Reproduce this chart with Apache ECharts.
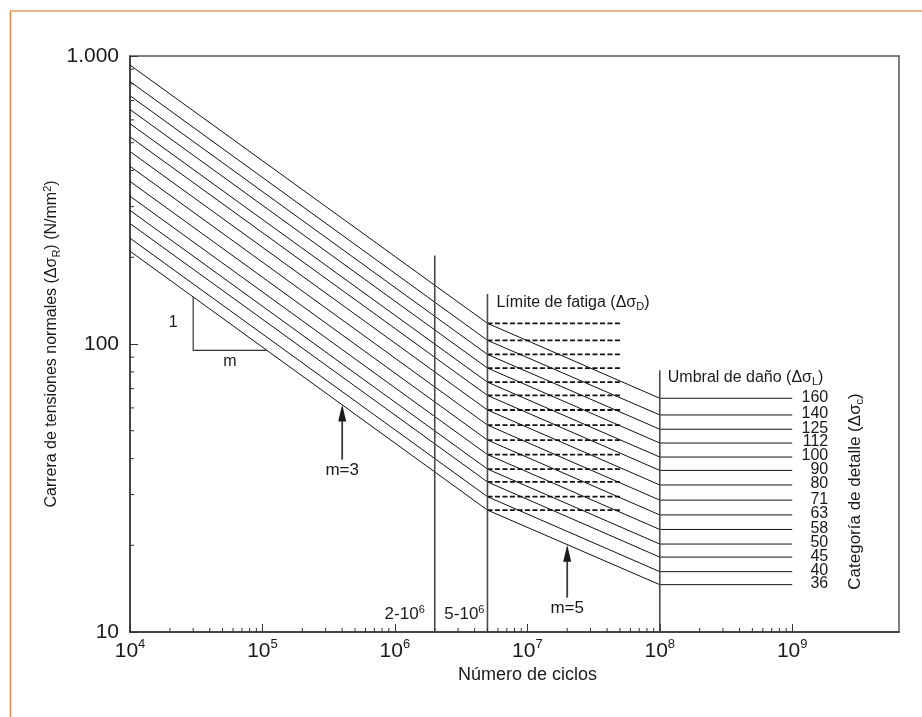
<!DOCTYPE html>
<html><head><meta charset="utf-8">
<script src="https://cdn.jsdelivr.net/npm/echarts@6/dist/echarts.min.js"></script>
<style>html,body{margin:0;padding:0;background:#fff}#c{width:922px;height:717px}</style>
</head><body><div id="c"></div>
<script>
// ---------------- data ----------------
const categoryLabels = ['160','140','125','112','100','90','80','71','63','58','50','45','40','36'];
// stress range (N/mm2) at N = 1e4
const rangeAt1e4   = [930, 815, 728, 652, 582, 524, 466, 414, 367, 326, 291, 262, 233, 210];
// fatigue limit (at N = 5e6)
const fatigueLimit = [118, 103, 92, 82.5, 73.7, 66.3, 59, 52.3, 46.4, 41.3, 36.8, 33.2, 29.5, 26.5];
// cut-off limit (from N = 1e8 to 1e9)
const cutOffLimit  = [64.8, 56.7, 50.6, 45.3, 40.5, 36.4, 32.4, 28.7, 25.5, 22.7, 20.2, 18.2, 16.2, 14.6];
const breakCycles  = [1e4, 5e6, 1e8, 1e9];
const dashedCycles = [5e6, 5e7];
const verticalCycles = [2e6, 5e6, 1e8];
const verticalTops   = [203, 149, 81];
const slopeTriangle  = [[3e4, 146], [3e4, 95], [1.07e5, 95]];
const arrowTips   = [[4e5, 61.6], [2e7, 20.1]];
const arrowLabels = ['m=3', 'm=5'];
const noteTexts   = ['Límite de fatiga (Δσ{sub|D})', 'Umbral de daño (Δσ{sub|L})', '2-10{sup|6}', '5-10{sup|6}', '1', 'm'];
const noteAnchors = [[5e6, 149], [1e8, 81], [2e6, 10], [5e6, 10], [3e4, 117.8], [5.67e4, 95]];
const yTickLabels = {10: '10', 100: '100', 1000: '1.000'};
const tickMantissas = [2, 3, 4, 5, 6, 7, 8, 9];
const xDecades = [1e4, 1e5, 1e6, 1e7, 1e8];
const yDecades = [10, 100];
const xAxisTitle = 'Número de ciclos';
const yAxisTitle = 'Carrera de tensiones normales (Δσ{sub|R}) (N/mm{sup|2})';
const categoryTitle = 'Categoría de detalle (Δσ{sub|c})';

// ---------------- layout / style ----------------
const FONT = "'Liberation Sans', Arial, Helvetica, sans-serif";
const INK = '#1a1a1a';
const noteLayout = [
  {dx: 9, dy: 8, align: 'left', size: 16},
  {dx: 8, dy: 7.5, align: 'left', size: 16},
  {dx: -10, dy: -18, align: 'right', size: 17},
  {dx: -3, dy: -18, align: 'right', size: 17},
  {dx: -20, dy: -1, align: 'center', size: 16},
  {dx: 0, dy: 11.5, align: 'center', size: 16}
];
const arrowShaft = [55, 53];
const subSupRich = (lh) => ({
  sub: {fontSize: 11, fontFamily: FONT, verticalAlign: 'bottom', lineHeight: lh, color: INK},
  sup: {fontSize: 11, fontFamily: FONT, verticalAlign: 'top', lineHeight: lh, color: INK}
});

const xMinor = [];
xDecades.forEach(d => tickMantissas.forEach(m => xMinor.push(d * m)));
const yMinor = [];
yDecades.forEach(d => tickMantissas.forEach(m => yMinor.push(d * m)));

const series = [];
// S-N curves
categoryLabels.forEach((lab, i) => {
  series.push({
    type: 'line', name: lab, silent: true, symbol: 'none', z: 3,
    lineStyle: {color: '#111', width: 1},
    data: [[breakCycles[0], rangeAt1e4[i]], [breakCycles[1], fatigueLimit[i]],
           [breakCycles[2], cutOffLimit[i]], [breakCycles[3], cutOffLimit[i]]]
  });
  series.push({
    type: 'line', silent: true, symbol: 'none', z: 3,
    lineStyle: {color: '#111', width: 1.8, type: [5, 2.5]},
    data: [[dashedCycles[0], fatigueLimit[i]], [dashedCycles[1], fatigueLimit[i]]]
  });
});
// vertical reference lines
verticalCycles.forEach((n, i) => {
  series.push({
    type: 'line', silent: true, symbol: 'none', z: 4,
    lineStyle: {color: '#4a4a4a', width: 1.6},
    data: [[n, 10], [n, verticalTops[i]]]
  });
});
// slope triangle
series.push({
  type: 'line', silent: true, symbol: 'none', z: 4,
  lineStyle: {color: '#333', width: 1.2}, data: slopeTriangle
});
// minor ticks x
series.push({
  type: 'custom', silent: true, clip: false, z: 6,
  data: xMinor.map(v => [v, 10]),
  renderItem: (p, api) => {
    const c = api.coord([api.value(0), api.value(1)]);
    return {type: 'line', shape: {x1: c[0], y1: c[1], x2: c[0], y2: c[1] - 4}, style: {stroke: '#333', lineWidth: 1}};
  }
});
// minor ticks y
series.push({
  type: 'custom', silent: true, clip: false, z: 6,
  data: yMinor.map(v => [1e4, v]),
  renderItem: (p, api) => {
    const c = api.coord([api.value(0), api.value(1)]);
    return {type: 'line', shape: {x1: c[0], y1: c[1], x2: c[0] + 4, y2: c[1]}, style: {stroke: '#333', lineWidth: 1}};
  }
});
// arrows
series.push({
  type: 'custom', silent: true, clip: false, z: 7,
  data: arrowTips,
  renderItem: (p, api) => {
    const c = api.coord([api.value(0), api.value(1)]);
    const L = arrowShaft[p.dataIndex];
    return {type: 'group', children: [
      {type: 'line', shape: {x1: c[0], y1: c[1] + 15, x2: c[0], y2: c[1] + L}, style: {stroke: '#3a3a3a', lineWidth: 1.8}},
      {type: 'polygon', shape: {points: [[c[0], c[1]], [c[0] - 4, c[1] + 17], [c[0] + 4, c[1] + 17]]}, style: {fill: '#1a1a1a'}},
      {type: 'text', x: c[0], y: c[1] + L + 11,
        style: {text: arrowLabels[p.dataIndex], fontSize: 17, fontFamily: FONT, fill: INK, align: 'center', verticalAlign: 'middle'}}
    ]};
  }
});
// notes
series.push({
  type: 'custom', silent: true, clip: false, z: 7,
  data: noteAnchors,
  renderItem: (p, api) => {
    const c = api.coord([api.value(0), api.value(1)]);
    const lay = noteLayout[p.dataIndex];
    return {type: 'text', x: c[0] + lay.dx, y: c[1] + lay.dy,
      style: {text: noteTexts[p.dataIndex], fontSize: lay.size, fontFamily: FONT, fill: INK,
        align: lay.align, verticalAlign: 'middle', lineHeight: 20, rich: subSupRich(20)}};
  }
});
// category labels
series.push({
  type: 'custom', silent: true, clip: false, z: 7,
  data: cutOffLimit.map(v => [breakCycles[3], v]),
  renderItem: (p, api) => {
    const c = api.coord([api.value(0), api.value(1)]);
    return {type: 'text', x: c[0] + 36, y: c[1] - 1,
      style: {text: categoryLabels[p.dataIndex], fontSize: 16, fontFamily: FONT, fill: INK,
        align: 'right', verticalAlign: 'middle'}};
  }
});
// category title (rotated)
series.push({
  type: 'custom', silent: true, clip: false, z: 7,
  data: [[breakCycles[3], Math.sqrt(cutOffLimit[0] * cutOffLimit[cutOffLimit.length - 1])]],
  renderItem: (p, api) => {
    const c = api.coord([api.value(0), api.value(1)]);
    return {type: 'text', x: c[0] + 63, y: c[1], rotation: Math.PI / 2,
      style: {text: categoryTitle, fontSize: 17, fontFamily: FONT, fill: INK,
        align: 'center', verticalAlign: 'middle', lineHeight: 20, rich: subSupRich(20)}};
  }
});

const chart = echarts.init(document.getElementById('c'), null, {renderer: 'canvas'});
chart.setOption({
  animation: false,
  backgroundColor: '#fff',
  graphic: [
    {type: 'line', shape: {x1: 10.5, y1: 11, x2: 10.5, y2: 717}, style: {stroke: '#E8842C', lineWidth: 1.5}},
    {type: 'line', shape: {x1: 10, y1: 11, x2: 922, y2: 11}, style: {stroke: '#E6A063', lineWidth: 1.5}}
  ],
  grid: {left: 130, top: 56, right: 23, bottom: 85, show: true, borderColor: '#555', borderWidth: 1.5, backgroundColor: 'transparent'},
  xAxis: {
    type: 'log', logBase: 10, min: 1e4, max: 6.4e9,
    name: xAxisTitle, nameLocation: 'middle', nameGap: 34, nameMoveOverlap: false,
    nameTextStyle: {fontSize: 18, fontFamily: FONT, color: INK, padding: [0, 0, 0, 26]},
    axisLine: {show: true, lineStyle: {color: '#333', width: 1.5}},
    axisTick: {show: true, inside: true, length: 8, lineStyle: {color: '#333', width: 1}},
    splitLine: {show: false},
    axisLabel: {
      showMaxLabel: false, margin: 6, color: INK, fontSize: 21, fontFamily: FONT, lineHeight: 24,
      formatter: v => '{b|10}{sup|' + Math.round(Math.log10(v)) + '}',
      rich: {
        b: {fontSize: 21, fontFamily: FONT, color: INK, verticalAlign: 'bottom', lineHeight: 24},
        sup: {fontSize: 13, fontFamily: FONT, color: INK, verticalAlign: 'top', lineHeight: 24}
      }
    }
  },
  yAxis: {
    type: 'log', logBase: 10, min: 10, max: 1000,
    name: yAxisTitle, nameLocation: 'middle', nameRotate: 90, nameGap: 68, nameMoveOverlap: false,
    nameTextStyle: {fontSize: 16, fontFamily: FONT, color: INK, lineHeight: 20, rich: subSupRich(20)},
    axisLine: {show: true, lineStyle: {color: '#333', width: 1.5}},
    axisTick: {show: true, inside: true, length: 8, lineStyle: {color: '#333', width: 1}},
    splitLine: {show: false},
    axisLabel: {
      margin: 11, color: INK, fontSize: 21, fontFamily: FONT,
      formatter: v => yTickLabels[Math.round(v)] || ''
    }
  },
  series: series
});
</script>
</body></html>
